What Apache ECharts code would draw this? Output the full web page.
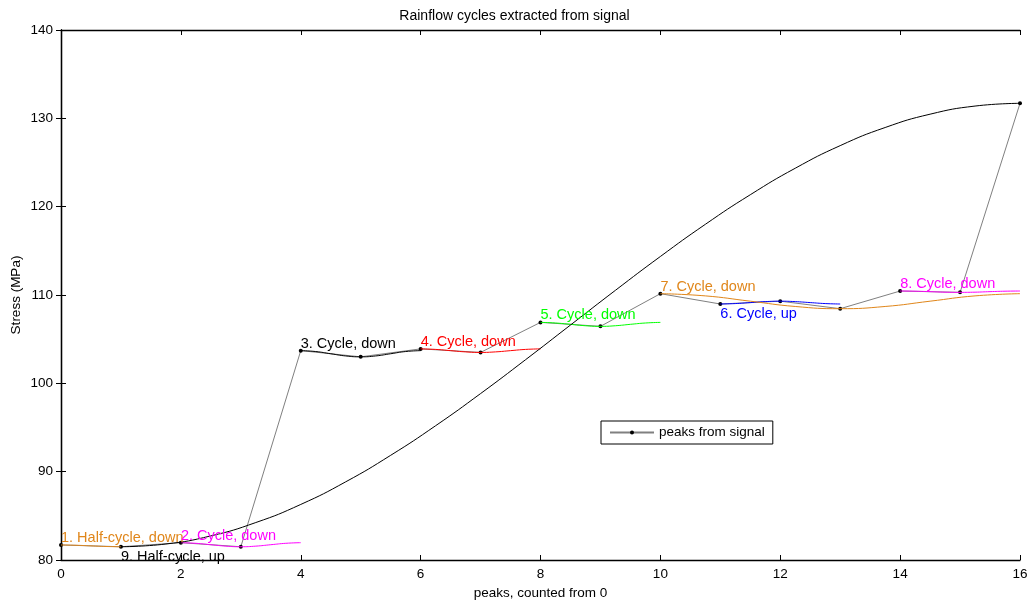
<!DOCTYPE html>
<html>
<head>
<meta charset="utf-8">
<script src="https://cdn.jsdelivr.net/npm/echarts@6/dist/echarts.min.js"></script>
<style>
  html, body { margin: 0; padding: 0; background: #fff; }
  #chart { width: 1029px; height: 601px; }
</style>
</head>
<body>
<div id="chart"></div>
<script>
// peaks (x = peak index)
var peakX = [0, 1, 2, 3, 4, 5, 6, 7, 8, 9, 10, 11, 12, 13, 14, 15, 16];
var peakY = [81.7, 81.5, 81.96, 81.5, 103.7, 103.0, 103.9, 103.5, 106.9, 106.45,
             110.15, 108.98, 109.3, 108.45, 110.45, 110.3, 131.7];

// cycle curves (x, stress)
var c1x = [0, 0.25, 0.5, 0.75, 1];
var c1y = [81.7, 81.67, 81.6, 81.53, 81.5];
var c2x = [2, 2.25, 2.5, 2.75, 3, 3.25, 3.5, 3.75, 4];
var c2y = [81.96, 81.89, 81.73, 81.57, 81.5, 81.57, 81.73, 81.89, 81.96];
var c3x = [4, 4.25, 4.5, 4.75, 5, 5.25, 5.5, 5.75, 6];
var c3y = [103.7, 103.6, 103.35, 103.1, 103.0, 103.1, 103.35, 103.6, 103.7];
var c4x = [6, 6.25, 6.5, 6.75, 7, 7.25, 7.5, 7.75, 8];
var c4y = [103.9, 103.84, 103.7, 103.56, 103.5, 103.56, 103.7, 103.84, 103.9];
var c5x = [8, 8.25, 8.5, 8.75, 9, 9.25, 9.5, 9.75, 10];
var c5y = [106.9, 106.83, 106.68, 106.52, 106.45, 106.52, 106.68, 106.83, 106.9];
var c6x = [11, 11.25, 11.5, 11.75, 12, 12.25, 12.5, 12.75, 13];
var c6y = [108.98, 109.03, 109.14, 109.25, 109.3, 109.25, 109.14, 109.03, 108.98];
var c7x = [10, 10.75, 11.5, 12.25, 13, 13.75, 14.5, 15.25, 16];
var c7y = [110.15, 109.9, 109.3, 108.7, 108.45, 108.7, 109.3, 109.9, 110.15];
var c8x = [14, 14.25, 14.5, 14.75, 15, 15.25, 15.5, 15.75, 16];
var c8y = [110.45, 110.43, 110.38, 110.32, 110.3, 110.32, 110.38, 110.43, 110.45];
var c9x = [1, 1.75, 2.5, 3.25, 4, 4.75, 5.5, 6.25, 7, 7.75, 8.5,
           9.25, 10, 10.75, 11.5, 12.25, 13, 13.75, 14.5, 15.25, 16];
var c9y = [81.5, 81.81, 82.73, 84.24, 86.29, 88.85, 91.85, 95.2, 98.84, 102.67, 106.6,
           110.53, 114.36, 118.0, 121.35, 124.35, 126.91, 128.96, 130.47, 131.39, 131.7];

var xTicks = [0, 2, 4, 6, 8, 10, 12, 14, 16];
var yTicks = [80, 90, 100, 110, 120, 130, 140];

var cycles = [
  { name: "1. Half-cycle, down", x: c1x, y: c1y, color: "#E0861A", up: false },
  { name: "2. Cycle, down", x: c2x, y: c2y, color: "#FF00FF", up: false },
  { name: "3. Cycle, down", x: c3x, y: c3y, color: "#000000", up: false },
  { name: "4. Cycle, down", x: c4x, y: c4y, color: "#FF0000", up: false },
  { name: "5. Cycle, down", x: c5x, y: c5y, color: "#00FF00", up: false },
  { name: "6. Cycle, up", x: c6x, y: c6y, color: "#0000FF", up: true },
  { name: "7. Cycle, down", x: c7x, y: c7y, color: "#E0861A", up: false },
  { name: "8. Cycle, down", x: c8x, y: c8y, color: "#FF00FF", up: false },
  { name: "9. Half-cycle, up", x: c9x, y: c9y, color: "#000000", up: true }
];

function zip(xs, ys) {
  return xs.map(function (v, i) { return [v, ys[i]]; });
}

var font = "Liberation Sans, Arial, sans-serif";

var series = [{
  name: "peaks from signal",
  type: "line",
  data: zip(peakX, peakY),
  symbol: "circle",
  symbolSize: 4,
  itemStyle: { color: "#000" },
  lineStyle: { color: "#808080", width: 1 },
  z: 2
}];

cycles.forEach(function (c) {
  series.push({
    name: c.name,
    type: "line",
    data: zip(c.x, c.y),
    smooth: true,
    showSymbol: false,
    lineStyle: { color: c.color, width: 1 },
    z: 3,
    markPoint: {
      symbol: "circle",
      symbolSize: 0,
      silent: true,
      label: {
        show: true,
        position: "right",
        distance: 0,
        offset: [0, c.up ? 10 : -7],
        formatter: c.name,
        color: c.color,
        fontSize: 14.5,
        fontFamily: font
      },
      data: [{ coord: [c.x[0], c.y[0]] }]
    }
  });
});

var option = {
  animation: false,
  backgroundColor: "#fff",
  title: {
    text: "Rainflow cycles extracted from signal",
    left: "center",
    top: 4,
    textStyle: { fontSize: 14, fontWeight: "normal", color: "#000", fontFamily: font }
  },
  legend: {
    data: ["peaks from signal"],
    left: 601,
    top: 421,
    orient: "vertical",
    padding: [4, 8, 4, 8],
    itemWidth: 44,
    itemHeight: 5,
    itemGap: 5,
    backgroundColor: "#fff",
    borderColor: "#000",
    borderWidth: 1,
    textStyle: { fontSize: 13.5, color: "#000", fontFamily: font, lineHeight: 15 }
  },
  grid: { left: 61, right: 9, top: 30, bottom: 41, containLabel: false, outerBoundsMode: "none" },
  xAxis: [{
    type: "value",
    min: 0, max: 16, interval: 2,
    name: "peaks, counted from 0",
    nameLocation: "middle",
    nameGap: 24,
    nameTextStyle: { fontSize: 13.5, color: "#000", fontFamily: font },
    axisLine: { show: true, lineStyle: { color: "#000", width: 1.3 } },
    axisTick: { show: true, inside: true, length: 5, lineStyle: { color: "#000" } },
    axisLabel: { color: "#000", fontSize: 13.5, fontFamily: font, margin: 7,
      formatter: function (v) { return xTicks.indexOf(v) >= 0 ? String(v) : ""; } },
    splitLine: { show: false }
  }, {
    type: "value",
    position: "top",
    min: 0, max: 16, interval: 2,
    axisLine: { show: true, lineStyle: { color: "#000", width: 1.3 } },
    axisTick: { show: true, inside: true, length: 5, lineStyle: { color: "#000" } },
    axisLabel: { show: false },
    splitLine: { show: false }
  }],
  yAxis: [{
    type: "value",
    min: 80, max: 140, interval: 10,
    name: "Stress (MPa)",
    nameLocation: "middle",
    nameGap: 38,
    nameMoveOverlap: false,
    nameTextStyle: { fontSize: 13.5, color: "#000", fontFamily: font },
    axisLine: { show: true, lineStyle: { color: "#000", width: 1.3 } },
    axisTick: { show: true, inside: true, length: 5, lineStyle: { color: "#000" } },
    axisLabel: { color: "#000", fontSize: 13.5, fontFamily: font, margin: 8,
      formatter: function (v) { return yTicks.indexOf(v) >= 0 ? String(v) : ""; } },
    splitLine: { show: false }
  }, {
    type: "value",
    position: "right",
    min: 80, max: 140, interval: 10,
    axisLine: { show: true, lineStyle: { color: "#000", width: 1.3 } },
    axisTick: { show: true, inside: true, length: 5, lineStyle: { color: "#000" } },
    axisLabel: { show: false },
    splitLine: { show: false }
  }],
  series: series
};

var myChart = echarts.init(document.getElementById("chart"));
myChart.setOption(option);
</script>
</body>
</html>
